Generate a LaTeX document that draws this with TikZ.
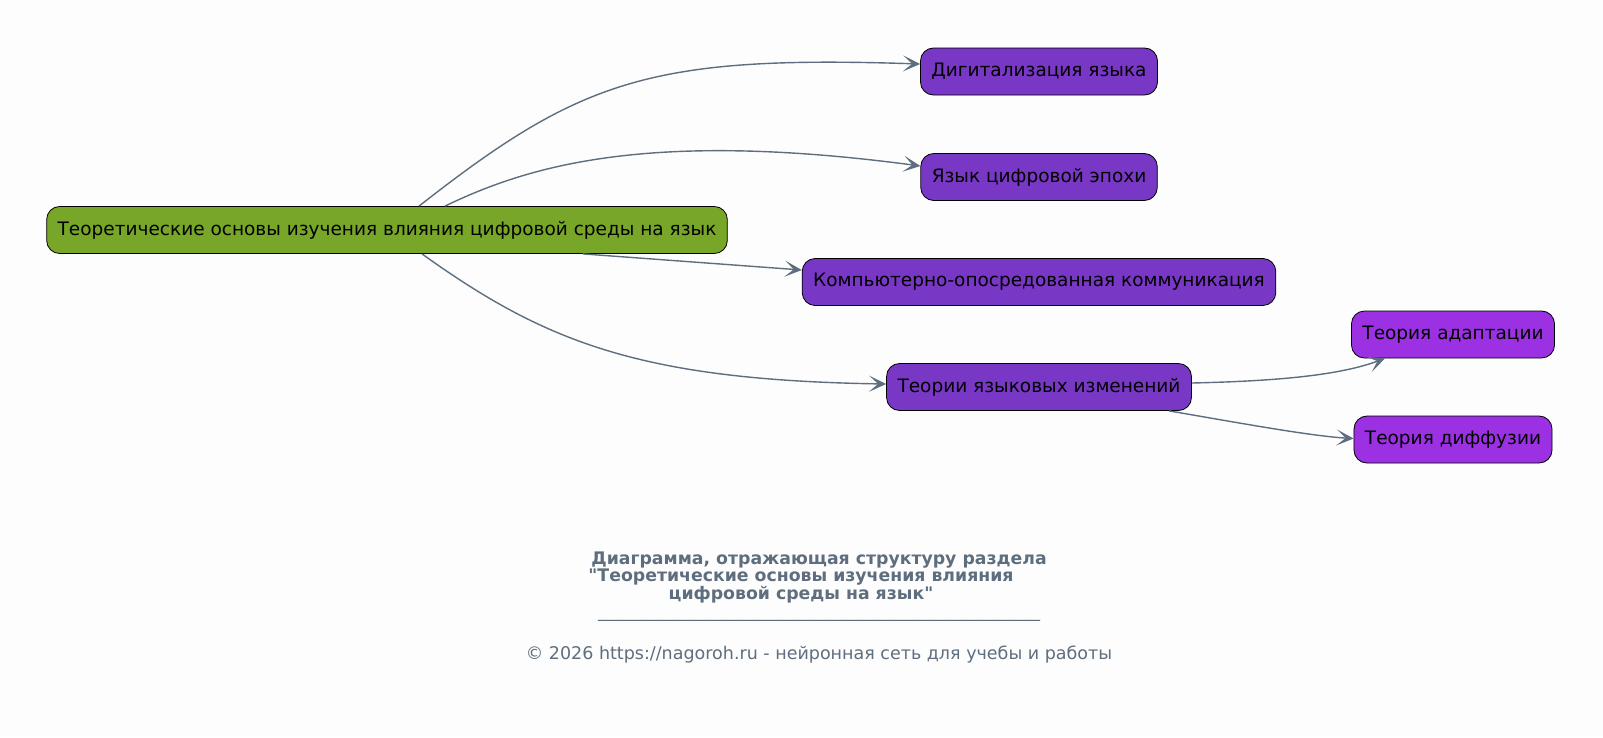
\documentclass[tikz,border=0pt]{standalone}
\usepackage{fontspec}
\setmainfont{DejaVu Sans}
\usetikzlibrary{arrows.meta,positioning}
\definecolor{rootgreen}{HTML}{77A628}
\definecolor{topicviolet}{HTML}{7837C4}
\definecolor{leafviolet}{HTML}{9B31E3}
\definecolor{edgegray}{HTML}{5E6E7E}
\definecolor{paper}{HTML}{FDFDFD}

\tikzset{
    box/.style={draw=black, line width=0.8pt, rounded corners=13pt, minimum height=47pt, inner xsep=11pt, inner ysep=0pt, font=\fontsize{18.5}{22}\selectfont, text=black},
    link/.style={draw=edgegray, line width=1.4pt, -{Stealth[length=17pt,width=16pt,inset=9pt]}},
    caption/.style={text=edgegray, align=center, inner sep=0pt},
}

\begin{document}
\begin{tikzpicture}[x=1pt,y=-1pt]
        \fill[paper] (0,0) rectangle (1603,737);
        \useasboundingbox (0,0) rectangle (1603,737);
        \node[box,fill=rootgreen] (ROOT) at (387,230) {Теоретические основы изучения влияния цифровой среды на язык};
        \node[box,fill=topicviolet] (DIG) at (1039,71.5) {Дигитализация языка};
        \node[box,fill=topicviolet] (ERA) at ([shift={+(0,105.5)}]DIG) {Язык цифровой эпохи};
        \node[box,fill=topicviolet] (CMC) at ([shift={+(0,210.5)}]DIG) {Компьютерно-опосредованная коммуникация};
        \node[box,fill=topicviolet] (THEO) at ([shift={+(0,315.5)}]DIG) {Теории языковых изменений};
        \node[box,fill=leafviolet] (ADAPT) at (1453,334.5) {Теория адаптации};
        \node[box,fill=leafviolet] (DIFF) at ([shift={+(0,105)}]ADAPT) {Теория диффузии};
        \draw[link] ([xshift=32pt]ROOT.north) .. controls (580,80) and (650,55) .. ([yshift=7.5pt]DIG.west);
        \draw[link] ([xshift=58pt]ROOT.north) .. controls (530,165) and (650,130) .. ([yshift=11pt]ERA.west);
        \draw[link] ([xshift=196pt]ROOT.south) -- ([yshift=12pt]CMC.west);
        \draw[link] ([xshift=35pt]ROOT.south) .. controls (545,342) and (640,380) .. ([yshift=3pt]THEO.west);
        \draw[link] ([yshift=4pt]THEO.east) .. controls (1280,381) and (1340,375) .. ([xshift=-68pt]ADAPT.south);
        \draw[link] ([xshift=130pt]THEO.south) .. controls (1240,423) and (1310,436) .. ([yshift=1pt]DIFF.west);
        % caption below the diagram
        \node[caption,font=\bfseries\fontsize{17.3}{17.5}\selectfont] (TITLE) at (801,577) {\hspace*{36pt}Диаграмма, отражающая структуру раздела\\\textquotedbl Теоретические основы изучения влияния\\цифровой среды на язык\textquotedbl};
        \node[caption,font=\fontsize{17}{20}\selectfont] (RULE) at (819,619) {\detokenize{____________________________________________________}};
        \node[caption,font=\fontsize{17.5}{20}\selectfont] (FOOT) at (819,655) {© 2026 https://nagoroh.ru - нейронная сеть для учебы и работы};
    \end{tikzpicture}
\end{document}
